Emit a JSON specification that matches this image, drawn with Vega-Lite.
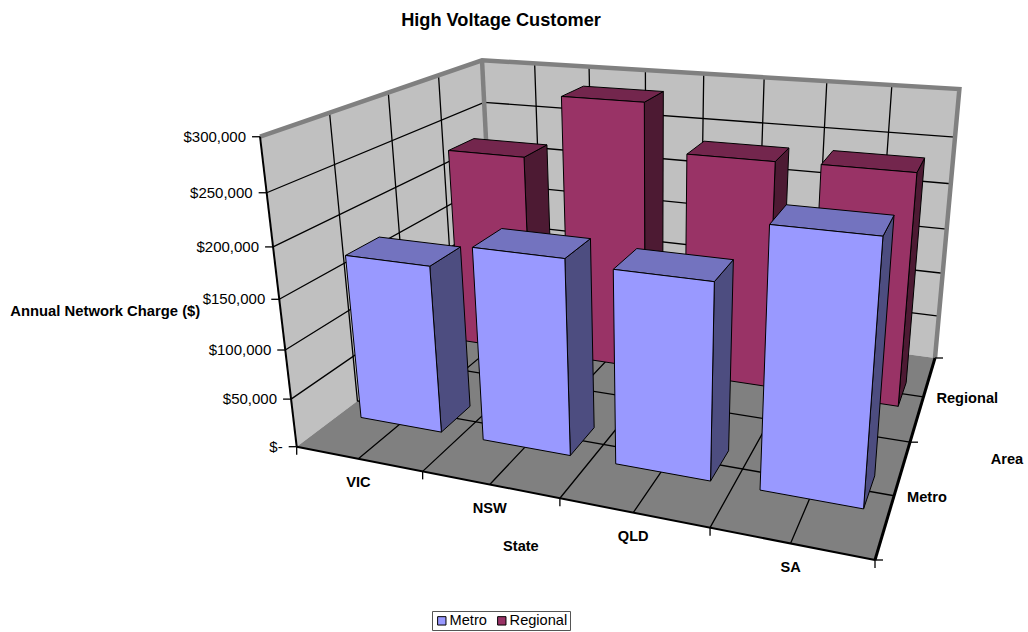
{
  "$schema": "https://vega.github.io/schema/vega-lite/v6.json",
  "autosize": {"type": "none"},
  "padding": 0,
  "width": 1028,
  "height": 632,
  "background": "#ffffff",
  "config": {"view": {"stroke": null}},
  "title": {"text": "High Voltage Customer", "font": "Liberation Sans", "fontSize": 18.2, "fontWeight": "bold", "color": "#000000", "anchor": "middle", "frame": "group", "dx": -13, "dy": 34},
  "data": {"values": [
    {"kind": "plane", "name": "left"},
    {"kind": "plane", "name": "back"},
    {"kind": "plane", "name": "floor"},
    {"kind": "gridValue", "Charge": 50000},
    {"kind": "gridValue", "Charge": 100000},
    {"kind": "gridValue", "Charge": 150000},
    {"kind": "gridValue", "Charge": 200000},
    {"kind": "gridValue", "Charge": 250000},
    {"kind": "gridDepth", "at": 0.25},
    {"kind": "gridDepth", "at": 0.5},
    {"kind": "gridDepth", "at": 0.75},
    {"kind": "gridState", "at": 0.125},
    {"kind": "gridState", "at": 0.25},
    {"kind": "gridState", "at": 0.375},
    {"kind": "gridState", "at": 0.5},
    {"kind": "gridState", "at": 0.625},
    {"kind": "gridState", "at": 0.75},
    {"kind": "gridState", "at": 0.875},
    {"kind": "wall", "name": "rim"},
    {"kind": "wall", "name": "corner"},
    {"kind": "axis", "name": "value"},
    {"kind": "axis", "name": "state"},
    {"kind": "axis", "name": "depth"},
    {"kind": "bar", "series": "Regional", "State": "VIC", "Area": "Regional", "Charge": 224500},
    {"kind": "bar", "series": "Regional", "State": "NSW", "Area": "Regional", "Charge": 292700},
    {"kind": "bar", "series": "Regional", "State": "QLD", "Area": "Regional", "Charge": 243000},
    {"kind": "bar", "series": "Regional", "State": "SA", "Area": "Regional", "Charge": 244000},
    {"kind": "bar", "series": "Metro", "State": "VIC", "Area": "Metro", "Charge": 171000},
    {"kind": "bar", "series": "Metro", "State": "NSW", "Area": "Metro", "Charge": 194500},
    {"kind": "bar", "series": "Metro", "State": "QLD", "Area": "Metro", "Charge": 190000},
    {"kind": "bar", "series": "Metro", "State": "SA", "Area": "Metro", "Charge": 245000},
    {"kind": "valueTick", "Charge": 0},
    {"kind": "valueTick", "Charge": 50000},
    {"kind": "valueTick", "Charge": 100000},
    {"kind": "valueTick", "Charge": 150000},
    {"kind": "valueTick", "Charge": 200000},
    {"kind": "valueTick", "Charge": 250000},
    {"kind": "valueTick", "Charge": 300000},
    {"kind": "stateTick", "at": 0},
    {"kind": "stateTick", "at": 0.25},
    {"kind": "stateTick", "at": 0.5},
    {"kind": "stateTick", "at": 0.75},
    {"kind": "stateTick", "at": 1},
    {"kind": "depthTick", "at": 0},
    {"kind": "depthTick", "at": 0.5},
    {"kind": "depthTick", "at": 1},
    {"kind": "stateLabel", "State": "VIC", "label": "VIC"},
    {"kind": "stateLabel", "State": "NSW", "label": "NSW"},
    {"kind": "stateLabel", "State": "QLD", "label": "QLD"},
    {"kind": "stateLabel", "State": "SA", "label": "SA"},
    {"kind": "depthLabel", "Area": "Metro", "label": "Metro"},
    {"kind": "depthLabel", "Area": "Regional", "label": "Regional"},
    {"kind": "axisTitle", "name": "state", "label": "State"},
    {"kind": "axisTitle", "name": "depth", "label": "Area"},
    {"kind": "axisTitle", "name": "value", "label": "Annual Network Charge ($)"}
  ]},
  "transform": [
    {"calculate": "indexof(['VIC','NSW','QLD','SA'], datum.State)", "as": "si"},
    {"calculate": "datum.Area === 'Metro' ? 0 : 1", "as": "di"},
    {"calculate": "(datum.si + 1/6) / 4 + 0.0025", "as": "x0"},
    {"calculate": "(datum.si + 5/6) / 4 + 0.0025", "as": "x1"},
    {"calculate": "datum.di / 2 + 0.25 - 0.074", "as": "y0"},
    {"calculate": "datum.di / 2 + 0.25 + 0.069", "as": "y1"},
    {"calculate": "datum.Charge / 300000", "as": "zt"},
    {"calculate": "datum.kind === 'bar' ? [{f:'side',n:0,x:datum.x1,y:datum.y0,z:0},{f:'side',n:1,x:datum.x1,y:datum.y1,z:0},{f:'side',n:2,x:datum.x1,y:datum.y1,z:datum.zt},{f:'side',n:3,x:datum.x1,y:datum.y0,z:datum.zt},{f:'top',n:0,x:datum.x0,y:datum.y0,z:datum.zt},{f:'top',n:1,x:datum.x1,y:datum.y0,z:datum.zt},{f:'top',n:2,x:datum.x1,y:datum.y1,z:datum.zt},{f:'top',n:3,x:datum.x0,y:datum.y1,z:datum.zt},{f:'front',n:0,x:datum.x0,y:datum.y0,z:0},{f:'front',n:1,x:datum.x1,y:datum.y0,z:0},{f:'front',n:2,x:datum.x1,y:datum.y0,z:datum.zt},{f:'front',n:3,x:datum.x0,y:datum.y0,z:datum.zt}] : datum.kind === 'plane' ? (datum.name === 'left' ? [{n:0,x:0,y:0,z:0},{n:1,x:0,y:1,z:0},{n:2,x:0,y:1,z:1},{n:3,x:0,y:0,z:1}] : datum.name === 'back' ? [{n:0,x:0,y:1,z:0},{n:1,x:1,y:1,z:0},{n:2,x:1,y:1,z:1},{n:3,x:0,y:1,z:1}] : [{n:0,x:0,y:0,z:0},{n:1,x:1,y:0,z:0},{n:2,x:1,y:1,z:0},{n:3,x:0,y:1,z:0}]) : datum.kind === 'gridValue' ? [{n:0,x:0,y:0,z:datum.zt},{n:1,x:0,y:1,z:datum.zt},{n:2,x:1,y:1,z:datum.zt}] : datum.kind === 'gridDepth' ? [{n:0,x:0,y:datum.at,z:1},{n:1,x:0,y:datum.at,z:0},{n:2,x:1,y:datum.at,z:0}] : datum.kind === 'gridState' ? [{n:0,x:datum.at,y:0,z:0},{n:1,x:datum.at,y:1,z:0},{n:2,x:datum.at,y:1,z:1}] : datum.kind === 'wall' ? (datum.name === 'rim' ? [{n:0,x:0,y:0,z:1},{n:1,x:0,y:1,z:1},{n:2,x:1,y:1,z:1},{n:3,x:1,y:1,z:0}] : [{n:0,x:0,y:1,z:1},{n:1,x:0,y:1,z:0}]) : datum.kind === 'axis' ? (datum.name === 'value' ? [{n:0,x:0,y:0,z:0},{n:1,x:0,y:0,z:1}] : datum.name === 'state' ? [{n:0,x:0,y:0,z:0},{n:1,x:1,y:0,z:0}] : [{n:0,x:1,y:0,z:0},{n:1,x:1,y:1,z:0}]) : datum.kind === 'valueTick' ? [{n:0,x:0,y:0,z:datum.zt}] : datum.kind === 'stateTick' ? [{n:0,x:datum.at,y:0,z:0}] : datum.kind === 'depthTick' ? [{n:0,x:1,y:datum.at,z:0}] : datum.kind === 'stateLabel' ? [{n:0,x:(datum.si+0.5)/4,y:0,z:0}] : datum.kind === 'depthLabel' ? [{n:0,x:1,y:datum.di/2+0.25,z:0}] : (datum.name === 'state' ? [{n:0,x:0.5,y:0,z:0}] : datum.name === 'depth' ? [{n:0,x:1,y:0.5,z:0}] : [{n:0,x:0,y:0,z:0.5}])", "as": "verts"},
    {"flatten": ["verts"]},
    {"calculate": "datum.kind + '|' + datum.name + '|' + datum.State + '|' + datum.Area + '|' + datum.Charge + '|' + datum.at + '|' + datum.verts.f", "as": "key"},
    {"calculate": "datum.verts.n", "as": "n"},
    {"calculate": "datum.verts.f", "as": "face"},
    {"calculate": "1 - 0.16473*datum.verts.x + 0.33375*datum.verts.y - 0.0932*datum.verts.z", "as": "w"},
    {"calculate": "(434.16*datum.verts.x + 362.17*datum.verts.y - 60.9*datum.verts.z + 296.7) / datum.w", "as": "px"},
    {"calculate": "(21.05*datum.verts.x - 49.24*datum.verts.y - 322.7*datum.verts.z + 446.7) / datum.w", "as": "py"}
  ],
  "encoding": {
    "x": {"field": "px", "type": "quantitative", "axis": null, "scale": {"domain": [0, 1028], "nice": false, "zero": false}},
    "y": {"field": "py", "type": "quantitative", "axis": null, "scale": {"domain": [0, 632], "nice": false, "zero": false, "reverse": true}}
  },
  "layer": [
    {
      "transform": [{"filter": "datum.kind === 'plane'"}],
      "mark": {"type": "line", "interpolate": "linear-closed", "strokeWidth": 0},
      "encoding": {
        "order": {"field": "n"},
        "detail": {"field": "key"},
        "fill": {"field": "name", "type": "nominal", "legend": null, "scale": {"domain": ["left", "back", "floor"], "range": ["#c0c0c0", "#c0c0c0", "#808080"]}}
      }
    },
    {
      "transform": [{"filter": "datum.kind === 'gridValue' || datum.kind === 'gridDepth' || datum.kind === 'gridState'"}],
      "mark": {"type": "line", "stroke": "#000000", "strokeWidth": 1.3},
      "encoding": {"order": {"field": "n"}, "detail": {"field": "key"}}
    },
    {
      "transform": [{"filter": "datum.kind === 'wall'"}],
      "mark": {"type": "line", "stroke": "#808080", "strokeWidth": 4.5, "strokeJoin": "miter"},
      "encoding": {"order": {"field": "n"}, "detail": {"field": "key"}}
    },
    {
      "transform": [{"filter": "datum.kind === 'axis' && datum.name !== 'depth'"}],
      "mark": {"type": "line", "stroke": "#000000", "strokeWidth": 2},
      "encoding": {"order": {"field": "n"}, "detail": {"field": "key"}}
    },
    {
      "transform": [{"filter": "datum.kind === 'axis' && datum.name === 'depth'"}],
      "mark": {"type": "line", "stroke": "#000000", "strokeWidth": 3},
      "encoding": {"order": {"field": "n"}, "detail": {"field": "key"}}
    },
    {
      "transform": [
        {"filter": "datum.kind === 'bar'"},
        {"calculate": "datum.series + ' ' + datum.face", "as": "shade"}
      ],
      "mark": {"type": "line", "interpolate": "linear-closed", "stroke": "#000000", "strokeWidth": 1},
      "encoding": {
        "order": {"field": "n"},
        "detail": {"field": "key"},
        "fill": {
          "field": "shade", "type": "nominal", "legend": null,
          "scale": {
            "domain": ["Metro front", "Metro top", "Metro side", "Regional front", "Regional top", "Regional side"],
            "range": ["#9999ff", "#7373bf", "#4d4d80", "#993366", "#73264d", "#4d1a33"]
          }
        }
      }
    },
    {
      "transform": [
        {"filter": "datum.kind === 'valueTick' || datum.kind === 'stateTick' || datum.kind === 'depthTick'"},
        {"calculate": "datum.kind === 'valueTick' ? datum.px - 8 : datum.kind === 'depthTick' ? datum.px + 8 : datum.px", "as": "tx"},
        {"calculate": "datum.kind === 'stateTick' ? datum.py + 8 : datum.py", "as": "ty"}
      ],
      "mark": {"type": "rule", "stroke": "#000000", "strokeWidth": 1.3},
      "encoding": {"x2": {"field": "tx"}, "y2": {"field": "ty"}}
    },
    {
      "transform": [
        {"filter": "datum.kind === 'valueTick'"},
        {"calculate": "datum.Charge === 0 ? '$-' : format(datum.Charge, '$,')", "as": "text"}
      ],
      "mark": {"type": "text", "align": "right", "baseline": "middle", "font": "Liberation Sans", "fontSize": 15, "color": "#000000", "dx": -14},
      "encoding": {"text": {"field": "text"}}
    },
    {
      "transform": [
        {"filter": "datum.kind === 'stateLabel'"}
      ],
      "mark": {"type": "text", "align": "center", "baseline": "middle", "font": "Liberation Sans", "fontSize": 14.6, "fontWeight": "bold", "color": "#000000", "dy": 24.5},
      "encoding": {"text": {"field": "label"}}
    },
    {
      "transform": [
        {"filter": "datum.kind === 'depthLabel'"}
      ],
      "mark": {"type": "text", "align": "left", "baseline": "middle", "font": "Liberation Sans", "fontSize": 14.6, "fontWeight": "bold", "color": "#000000", "dx": 13, "dy": 2},
      "encoding": {"text": {"field": "label"}}
    },
    {
      "transform": [
        {"filter": "datum.kind === 'axisTitle' && datum.name === 'state'"}
      ],
      "mark": {"type": "text", "align": "center", "baseline": "middle", "font": "Liberation Sans", "fontSize": 14.6, "fontWeight": "bold", "color": "#000000", "dx": -39, "dy": 49},
      "encoding": {"text": {"field": "label"}}
    },
    {
      "transform": [
        {"filter": "datum.kind === 'axisTitle' && datum.name === 'depth'"}
      ],
      "mark": {"type": "text", "align": "center", "baseline": "middle", "font": "Liberation Sans", "fontSize": 14.6, "fontWeight": "bold", "color": "#000000", "dx": 97, "dy": 18},
      "encoding": {"text": {"field": "label"}}
    },
    {
      "transform": [
        {"filter": "datum.kind === 'axisTitle' && datum.name === 'value'"}
      ],
      "mark": {"type": "text", "align": "center", "baseline": "middle", "font": "Liberation Sans", "fontSize": 14.8, "fontWeight": "bold", "color": "#000000", "dx": -174, "dy": 13},
      "encoding": {"text": {"field": "label"}}
    },
    {
      "transform": [
        {"filter": "datum.kind === 'bar' && datum.face === 'front' && datum.n === 0"}
      ],
      "mark": {"type": "point", "shape": "square", "filled": true, "opacity": 0},
      "encoding": {
        "fill": {
          "field": "series", "type": "nominal",
          "scale": {"domain": ["Metro", "Regional"], "range": ["#9999ff", "#993366"]},
          "legend": {
            "title": null, "orient": "none", "legendX": 432, "legendY": 611, "direction": "horizontal",
            "symbolType": "square", "symbolSize": 70, "symbolStrokeColor": "#000000", "symbolStrokeWidth": 1, "symbolOpacity": 1,
            "labelFont": "Liberation Sans", "labelFontSize": 14.6, "labelColor": "#000000", "labelOffset": 0.5,
            "fillColor": "#ffffff", "strokeColor": "#555555", "padding": 2.5, "columnPadding": 7
          }
        }
      }
    }
  ],
  "resolve": {"scale": {"fill": "independent"}}
}
